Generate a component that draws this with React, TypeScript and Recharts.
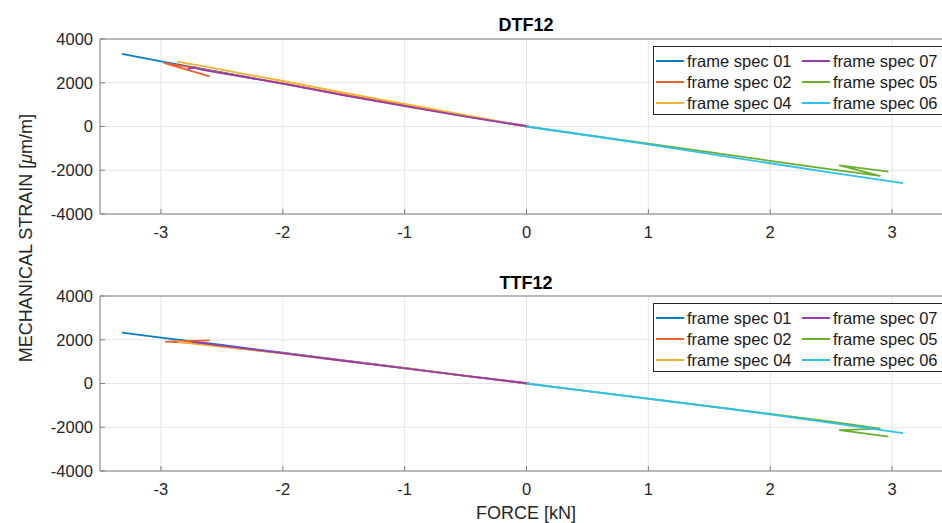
import React from 'react';
import { LineChart, Line, XAxis, YAxis, CartesianGrid, Legend } from 'recharts';

const seriesNames = ['frame spec 01', 'frame spec 02', 'frame spec 04', 'frame spec 07', 'frame spec 05', 'frame spec 06'];
const seriesColors = ['#0A7CC4', '#F05F2C', '#F0B330', '#9A3CAC', '#6CAE2F', '#2CC2EE'];
// MATLAB fills the legend column by column
const legendOrder = [0, 3, 1, 4, 2, 5];

const forceTicks = [-3, -2, -1, 0, 1, 2, 3];
const strainTicks = [-4000, -2000, 0, 2000, 4000];

// DTF12
const dtf01Force = [-3.32, -3.0, -2.5, -2.0, -1.5, -1.0, -0.5, 0.0];
const dtf01Strain = [3320, 2980, 2470, 1960, 1450, 960, 470, 0];
const dtf02Force = [-2.6, -2.97, -2.8, -2.4, -2.0, -1.5, -1.0, -0.5, 0.02];
const dtf02Strain = [2290, 2900, 2750, 2360, 1970, 1460, 970, 480, 0];
const dtf04Force = [-2.87, -2.69, -2.0, -1.5, -1.0, -0.5, 0.0];
const dtf04Strain = [2970, 2790, 2080, 1550, 1030, 520, 0];
const dtf07Force = [-2.78, -2.72, -2.66, -2.0, -1.5, -1.0, -0.5, 0.02];
const dtf07Strain = [2640, 2700, 2590, 1960, 1420, 930, 450, 0];
const dtf05Force = [0.0, 0.5, 1.0, 1.5, 2.0, 2.5, 2.9, 2.57, 2.97];
const dtf05Strain = [0, -400, -780, -1170, -1570, -1960, -2260, -1780, -2060];
const dtf06Force = [0.0, 0.5, 1.0, 1.5, 2.0, 2.5, 3.09];
const dtf06Strain = [0, -400, -820, -1250, -1680, -2110, -2590];

// TTF12
const ttf01Force = [-3.32, -3.0, -2.5, -2.0, -1.5, -1.0, -0.5, 0.0];
const ttf01Strain = [2330, 2100, 1760, 1410, 1060, 710, 350, 0];
const ttf02Force = [-2.6, -2.96, -2.75, -2.0, -1.5, -1.0, -0.5, 0.02];
const ttf02Strain = [1975, 1910, 1860, 1380, 1040, 700, 350, 0];
const ttf04Force = [-2.87, -2.69, -2.0, -1.5, -1.0, -0.5, 0.0];
const ttf04Strain = [1920, 1790, 1390, 1050, 700, 350, 0];
const ttf07Force = [-2.74, -2.5, -2.0, -1.5, -1.0, -0.5, 0.02];
const ttf07Strain = [1900, 1730, 1390, 1040, 690, 345, 0];
const ttf05Force = [0.0, 0.5, 1.0, 1.5, 2.0, 2.5, 2.9, 2.57, 2.97];
const ttf05Strain = [0, -345, -690, -1040, -1390, -1740, -2060, -2136, -2430];
const ttf06Force = [0.0, 0.5, 1.0, 1.5, 2.0, 2.5, 3.09];
const ttf06Strain = [0, -350, -697, -1050, -1409, -1800, -2273];

const pairs = (f: number[], s: number[]) => f.map((x, i) => ({ x, y: s[i] }));

const dtfSeries = [
  pairs(dtf01Force, dtf01Strain),
  pairs(dtf02Force, dtf02Strain),
  pairs(dtf04Force, dtf04Strain),
  pairs(dtf07Force, dtf07Strain),
  pairs(dtf05Force, dtf05Strain),
  pairs(dtf06Force, dtf06Strain),
];
const ttfSeries = [
  pairs(ttf01Force, ttf01Strain),
  pairs(ttf02Force, ttf02Strain),
  pairs(ttf04Force, ttf04Strain),
  pairs(ttf07Force, ttf07Strain),
  pairs(ttf05Force, ttf05Strain),
  pairs(ttf06Force, ttf06Strain),
];

const FONT = '"Liberation Sans", Arial, Helvetica, sans-serif';
const AXIS = '#808080';
const tickStyle = { fontSize: 16.5, fill: '#262626', fontFamily: FONT };
const noLabel = () => <g />;

const renderLegend = () => (
  <div
    style={{
      border: '1px solid #262626',
      background: '#fff',
      width: 298,
      height: 69,
      boxSizing: 'border-box',
      padding: '3.5px 0 0 2px',
      display: 'grid',
      gridTemplateColumns: '146px 146px',
      gridAutoRows: '21px',
      fontFamily: FONT,
      fontSize: 16.5,
      color: '#1a1a1a',
    }}
  >
    {legendOrder.map((i) => (
      <div key={i} style={{ display: 'flex', alignItems: 'center', whiteSpace: 'nowrap' }}>
        <svg width={28} height={4} style={{ flex: 'none' }}>
          <line x1={0} y1={2} x2={28} y2={2} stroke={seriesColors[i]} strokeWidth={2} />
        </svg>
        <span style={{ marginLeft: 3 }}>{seriesNames[i]}</span>
      </div>
    ))}
  </div>
);

const Panel = ({ series, top }: { series: { x: number; y: number }[][]; top: number }) => (
  <div style={{ position: 'absolute', left: 0, top, width: 980, height: 259 }}>
    <LineChart width={980} height={259} margin={{ top: 38, right: 26, bottom: 0, left: 0 }}>
      <CartesianGrid stroke="#e6e6e6" strokeWidth={1} />
      <XAxis
        dataKey="x"
        type="number"
        domain={[-3.5, 3.5]}
        ticks={forceTicks}
        allowDataOverflow
        height={45}
        tickSize={-5}
        tickMargin={17}
        stroke={AXIS}
        tick={tickStyle}
      />
      <XAxis
        xAxisId="top"
        orientation="top"
        type="number"
        domain={[-3.5, 3.5]}
        ticks={forceTicks}
        height={1}
        tickSize={-5}
        stroke={AXIS}
        tick={noLabel}
      />
      <YAxis
        type="number"
        domain={[-4000, 4000]}
        ticks={strainTicks}
        allowDataOverflow
        width={100}
        tickSize={-5}
        tickMargin={12}
        stroke={AXIS}
        tick={tickStyle}
      />
      <YAxis
        yAxisId="right"
        orientation="right"
        type="number"
        domain={[-4000, 4000]}
        ticks={strainTicks}
        width={1}
        tickSize={-5}
        stroke={AXIS}
        tick={noLabel}
      />
      {series.map((d, i) => (
        <Line
          key={seriesNames[i]}
          data={d}
          dataKey="y"
          name={seriesNames[i]}
          stroke={seriesColors[i]}
          strokeWidth={1.8}
          dot={false}
          activeDot={false}
          isAnimationActive={false}
          strokeLinejoin="round"
        />
      ))}
      <Legend
        content={renderLegend}
        layout="horizontal"
        verticalAlign="middle"
        align="center"
        wrapperStyle={{ left: 653, top: 46, width: 298, height: 69 }}
      />
    </LineChart>
  </div>
);

const titleStyle: React.CSSProperties = {
  position: 'absolute',
  left: 326,
  width: 400,
  textAlign: 'center',
  fontFamily: FONT,
  fontWeight: 'bold',
  fontSize: 18,
  lineHeight: '20px',
  color: '#000',
};

const App = () => (
  <div
    style={{
      position: 'fixed',
      left: 0,
      top: 0,
      width: 942,
      height: 523,
      overflow: 'hidden',
      background: '#fff',
    }}
  >
    <Panel series={dtfSeries} top={0} />
    <Panel series={ttfSeries} top={257} />
    <div style={{ ...titleStyle, top: 15 }}>DTF12</div>
    <div style={{ ...titleStyle, top: 273 }}>TTF12</div>
    <div
      style={{
        position: 'absolute',
        left: 326,
        top: 503,
        width: 400,
        textAlign: 'center',
        fontFamily: FONT,
        fontSize: 18,
        lineHeight: '20px',
        color: '#262626',
      }}
    >
      FORCE [kN]
    </div>
    <div
      style={{
        position: 'absolute',
        left: 26 - 200,
        top: 238 - 10,
        width: 400,
        textAlign: 'center',
        fontFamily: FONT,
        fontSize: 18,
        lineHeight: '20px',
        color: '#262626',
        transform: 'rotate(-90deg)',
        transformOrigin: '200px 10px',
      }}
    >
      MECHANICAL STRAIN [<span style={{ fontStyle: 'italic' }}>μ</span>m/m]
    </div>
  </div>
);

export default App;
